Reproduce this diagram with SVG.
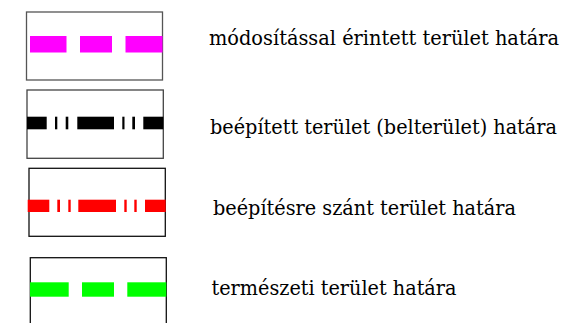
<svg xmlns="http://www.w3.org/2000/svg" width="566" height="323" viewBox="0 0 566 323">
<style>
.box{fill:#fff;stroke:#333;stroke-width:1.3}
.lbl{font-family:'DejaVu Serif','Liberation Serif',serif;font-size:19.6px;fill:#000}
.mag{fill:#ff00ff}
.blk{fill:#000}
.red{fill:#ff0000}
.grn{fill:#00ff00}
</style>
<rect width="566" height="323" fill="#fff"/>
<g id="legend-modositas">
<rect class="box" x="26.5" y="12" width="136" height="68" style="stroke:#555"/>
<rect class="mag" x="30" y="36" width="36.5" height="16.5"/>
<rect class="mag" x="80" y="36" width="32" height="16.5"/>
<rect class="mag" x="125.5" y="36" width="37" height="16.5"/>
<text class="lbl" x="209" y="45" textLength="350" lengthAdjust="spacingAndGlyphs">módosítással érintett terület határa</text>
</g>
<g id="legend-beepitett">
<rect class="box" x="27" y="90" width="136.3" height="68.3" style="stroke:#444"/>
<rect class="blk" x="27" y="116.7" width="19.7" height="12.6"/>
<rect class="blk" x="55" y="116.7" width="2.3" height="12.6"/>
<rect class="blk" x="65.7" y="116.7" width="2.6" height="12.6"/>
<rect class="blk" x="77.3" y="116.7" width="36.7" height="12.6"/>
<rect class="blk" x="122.3" y="116.7" width="2.2" height="12.6"/>
<rect class="blk" x="132.3" y="116.7" width="2.7" height="12.6"/>
<rect class="blk" x="143.3" y="116.7" width="20" height="12.6"/>
<text class="lbl" x="210" y="134" textLength="347" lengthAdjust="spacingAndGlyphs">beépített terület (belterület) határa</text>
</g>
<g id="legend-beepitesre">
<rect class="box" x="29" y="168.3" width="136.3" height="68" style="stroke:#111"/>
<rect class="red" x="27.7" y="199.7" width="21.6" height="12.3"/>
<rect class="red" x="57.3" y="199.7" width="2.7" height="12.3"/>
<rect class="red" x="68.3" y="199.7" width="2.4" height="12.3"/>
<rect class="red" x="78.3" y="199.7" width="37.7" height="12.3"/>
<rect class="red" x="124.3" y="199.7" width="2.4" height="12.3"/>
<rect class="red" x="134.3" y="199.7" width="2.4" height="12.3"/>
<rect class="red" x="145" y="199.7" width="20.7" height="12.3"/>
<text class="lbl" x="213" y="215" textLength="303" lengthAdjust="spacingAndGlyphs">beépítésre szánt terület határa</text>
</g>
<g id="legend-termeszeti">
<rect class="box" x="30.3" y="257.7" width="136" height="80" style="stroke:#111"/>
<rect class="grn" x="30" y="282.3" width="38.7" height="14.4"/>
<rect class="grn" x="82" y="282.3" width="32" height="14.4"/>
<rect class="grn" x="127.3" y="282.3" width="39" height="14.4"/>
<text class="lbl" x="211.5" y="295" textLength="245" lengthAdjust="spacingAndGlyphs">természeti terület határa</text>
</g>
<g id="connectors"></g>
</svg>
